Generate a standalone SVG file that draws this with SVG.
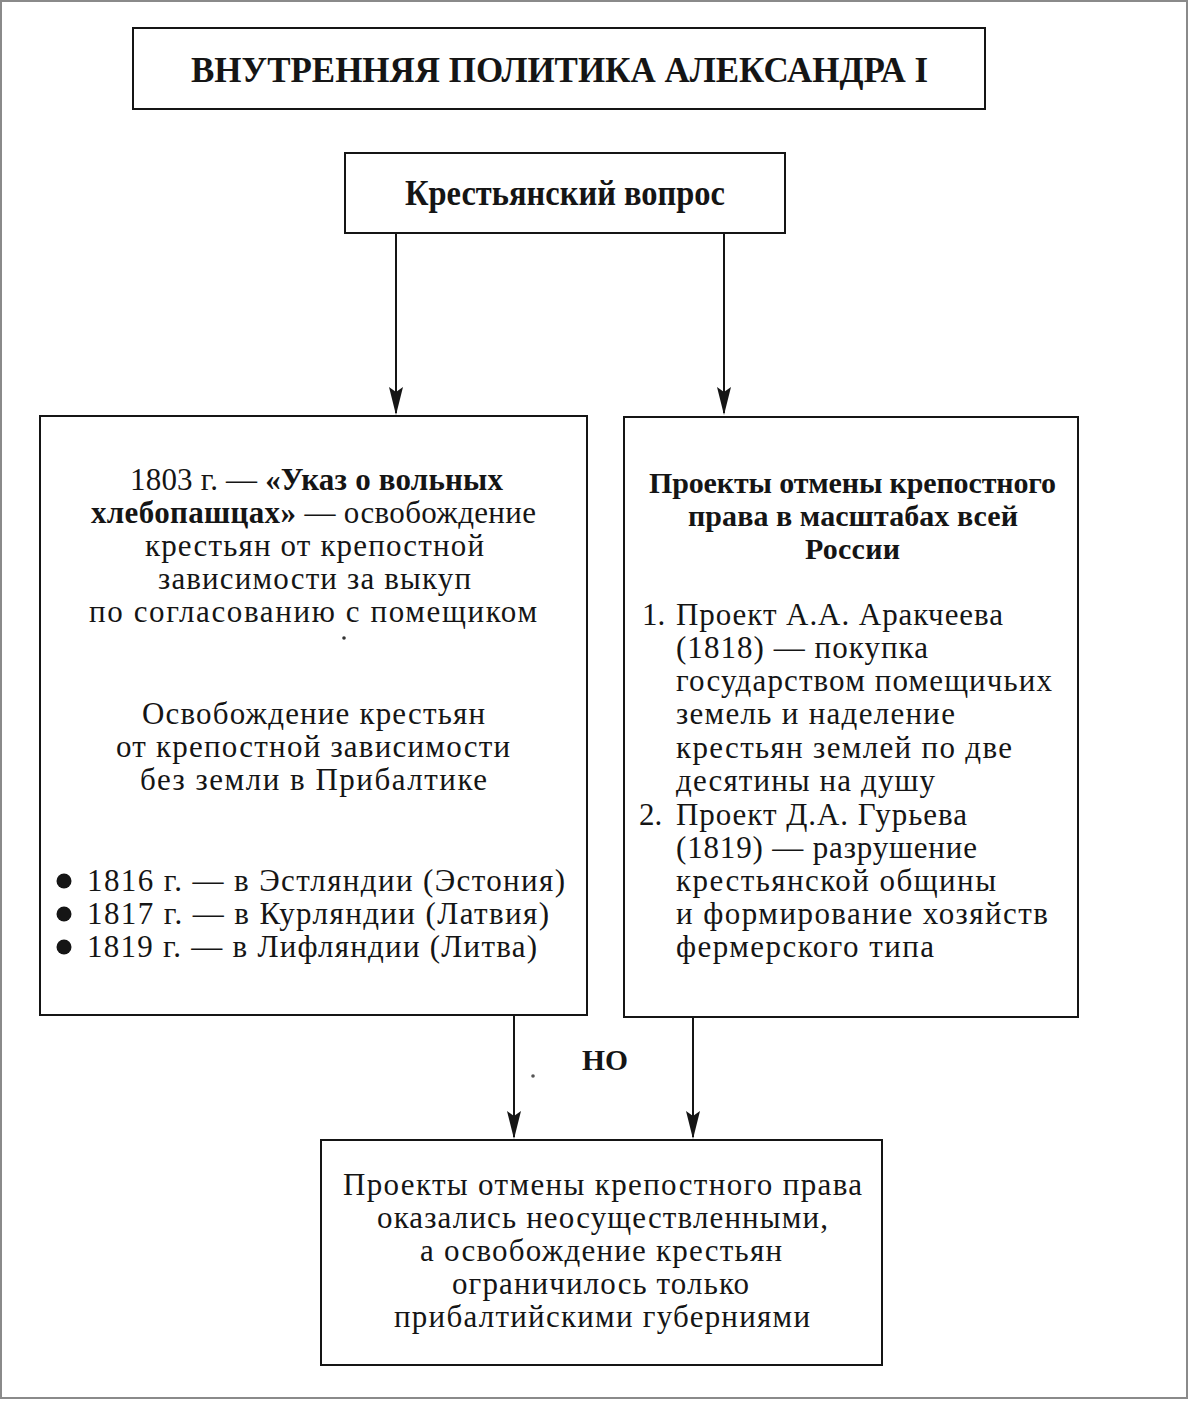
<svg xmlns="http://www.w3.org/2000/svg" width="1190" height="1403" viewBox="0 0 1190 1403">
<defs>
<style>
.box{fill:#fff;stroke:#151515;stroke-width:2}
.t{font-family:"Liberation Serif","Times New Roman",serif;font-size:31px;fill:#151515}
.b{font-weight:bold}
.h{font-family:"Liberation Serif","Times New Roman",serif;font-size:30px;font-weight:bold;fill:#151515}
.big{font-family:"Liberation Serif","Times New Roman",serif;font-size:35px;font-weight:bold;fill:#151515}
.conn{stroke:#151515;stroke-width:2;fill:none}
</style>
<marker id="arr" markerUnits="userSpaceOnUse" viewBox="0 0 28 14" markerWidth="28" markerHeight="14" refX="26" refY="7" orient="auto">
<path d="M0,0 L28,7 L0,14 L5,7 Z" fill="#151515"/>
</marker>
</defs>
<rect x="0" y="0" width="1190" height="1403" fill="#fff"/>
<rect x="1" y="1" width="1186" height="1397" fill="none" stroke="#8a8a8a" stroke-width="2"/>

<g id="connectors">
<line class="conn" x1="396" y1="233" x2="396" y2="413" marker-end="url(#arr)"/>
<line class="conn" x1="724" y1="233" x2="724" y2="413" marker-end="url(#arr)"/>
<line class="conn" x1="514" y1="1015" x2="514" y2="1137" marker-end="url(#arr)"/>
<line class="conn" x1="693" y1="1017" x2="693" y2="1137" marker-end="url(#arr)"/>
<text class="h" x="582" y="1070" textLength="46" lengthAdjust="spacingAndGlyphs">НО</text>
<circle cx="533" cy="1076" r="1.8" fill="#555"/>
</g>

<g id="title">
<rect class="box" x="133" y="28" width="852" height="81"/>
<text class="big" x="191" y="82" textLength="737" lengthAdjust="spacingAndGlyphs">ВНУТРЕННЯЯ ПОЛИТИКА АЛЕКСАНДРА I</text>
</g>

<g id="peasant-question">
<rect class="box" x="345" y="153" width="440" height="80"/>
<text class="big" x="405" y="205" textLength="320" lengthAdjust="spacingAndGlyphs">Крестьянский вопрос</text>
</g>

<g id="left-box">
<rect class="box" x="40" y="416" width="547" height="599"/>
<text class="t" x="130" y="490" textLength="373" lengthAdjust="spacing">1803 г. — <tspan class="b">«Указ о вольных</tspan></text>
<text class="t" x="91" y="523" textLength="445" lengthAdjust="spacing"><tspan class="b">хлебопашцах»</tspan> — освобождение</text>
<text class="t" x="145" y="556" textLength="339" lengthAdjust="spacing">крестьян от крепостной</text>
<text class="t" x="158" y="589" textLength="313" lengthAdjust="spacing">зависимости за выкуп</text>
<text class="t" x="89" y="622" textLength="448" lengthAdjust="spacing">по согласованию с помещиком</text>
<circle cx="344" cy="638" r="1.8" fill="#333"/>
<text class="t" x="142" y="724" textLength="343" lengthAdjust="spacing">Освобождение крестьян</text>
<text class="t" x="116" y="757" textLength="394" lengthAdjust="spacing">от крепостной зависимости</text>
<text class="t" x="140" y="790" textLength="347" lengthAdjust="spacing">без земли в Прибалтике</text>
<circle cx="64" cy="881" r="7.5" fill="#151515"/>
<circle cx="64" cy="914" r="7.5" fill="#151515"/>
<circle cx="64" cy="947" r="7.5" fill="#151515"/>
<text class="t" x="87" y="891" textLength="478" lengthAdjust="spacing">1816 г. — в Эстляндии (Эстония)</text>
<text class="t" x="87" y="924" textLength="462" lengthAdjust="spacing">1817 г. — в Курляндии (Латвия)</text>
<text class="t" x="87" y="957" textLength="450" lengthAdjust="spacing">1819 г. — в Лифляндии (Литва)</text>
</g>

<g id="right-box">
<rect class="box" x="624" y="417" width="454" height="600"/>
<text class="h" x="649" y="493" textLength="407" lengthAdjust="spacing">Проекты отмены крепостного</text>
<text class="h" x="688" y="526" textLength="330" lengthAdjust="spacing">права в масштабах всей</text>
<text class="h" x="805" y="559" textLength="95" lengthAdjust="spacing">России</text>
<text class="t" x="642" y="625">1.</text>
<text class="t" x="676" y="625" textLength="327" lengthAdjust="spacing">Проект А.А. Аракчеева</text>
<text class="t" x="676" y="658" textLength="252" lengthAdjust="spacing">(1818) — покупка</text>
<text class="t" x="676" y="691" textLength="376" lengthAdjust="spacing">государством помещичьих</text>
<text class="t" x="676" y="724" textLength="279" lengthAdjust="spacing">земель и наделение</text>
<text class="t" x="676" y="758" textLength="336" lengthAdjust="spacing">крестьян землей по две</text>
<text class="t" x="676" y="791" textLength="259" lengthAdjust="spacing">десятины на душу</text>
<text class="t" x="639" y="825">2.</text>
<text class="t" x="676" y="825" textLength="291" lengthAdjust="spacing">Проект Д.А. Гурьева</text>
<text class="t" x="676" y="858" textLength="301" lengthAdjust="spacing">(1819) — разрушение</text>
<text class="t" x="676" y="891" textLength="320" lengthAdjust="spacing">крестьянской общины</text>
<text class="t" x="676" y="924" textLength="372" lengthAdjust="spacing">и формирование хозяйств</text>
<text class="t" x="676" y="957" textLength="258" lengthAdjust="spacing">фермерского типа</text>
</g>

<g id="result-box">
<rect class="box" x="321" y="1140" width="561" height="225"/>
<text class="t" x="343" y="1195" textLength="519" lengthAdjust="spacing">Проекты отмены крепостного права</text>
<text class="t" x="377" y="1228" textLength="451" lengthAdjust="spacing">оказались неосуществленными,</text>
<text class="t" x="420" y="1261" textLength="362" lengthAdjust="spacing">а освобождение крестьян</text>
<text class="t" x="452" y="1294" textLength="297" lengthAdjust="spacing">ограничилось только</text>
<text class="t" x="394" y="1327" textLength="416" lengthAdjust="spacing">прибалтийскими губерниями</text>
</g>
</svg>
